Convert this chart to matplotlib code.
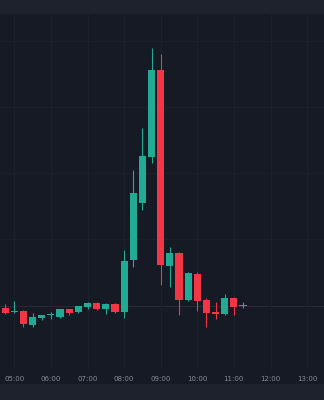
import numpy as np
import pandas as pd
import matplotlib
matplotlib.use("Agg")
import matplotlib.pyplot as plt
import matplotlib.dates as mdates
from matplotlib.patches import Rectangle

# 15 minute candles, 04:45 - 11:15
times = ["04:45", "05:00", "05:15", "05:30", "05:45", "06:00", "06:15", "06:30", "06:45",
         "07:00", "07:15", "07:30", "07:45", "08:00", "08:15", "08:30", "08:45", "09:00",
         "09:15", "09:30", "09:45", "10:00", "10:15", "10:30", "10:45", "11:00", "11:15"]
opens  = [97, 93, 94, 80, 87, 90, 88, 96, 93, 98, 102, 96, 101, 93, 145, 202, 248, 335,
          139, 152, 105, 131, 105, 93, 91, 107, 99]
highs  = [101, 104, 95, 92, 90.5, 93, 96.5, 96.5, 99.5, 103, 103, 102, 102, 155, 235, 277, 357, 351,
          158, 153, 133, 133, 107, 103, 111, 108, 103]
lows   = [91, 92, 78, 78, 85, 86, 87, 90, 92, 96, 95, 91, 92, 87, 138, 195, 242, 120,
          118, 90, 104, 94, 78, 86, 90, 90, 97]
closes = [92, 93.5, 81, 88, 90, 90, 96, 92, 99, 102, 96, 101, 93, 144, 212, 249, 335, 140,
          152, 105, 132, 104, 92, 91, 107, 98, 99.5]

up_col = '#22ab94'
dn_col = '#f23645'
bg = '#161a25'
band = '#1e222d'
grid_col = '#1c202b'

t = pd.to_datetime(["2024-01-01 " + s for s in times])
x = mdates.date2num(t)
w = (15 / (24 * 60)) * 0.78

fig = plt.figure(figsize=(3.24, 4.0), dpi=100, facecolor=bg)
fig.patches.append(Rectangle((0, 1 - 13 / 400), 1, 13 / 400, transform=fig.transFigure,
                             color=band, zorder=0))
fig.patches.append(Rectangle((0, 0), 1, 16 / 400, transform=fig.transFigure,
                             color=band, zorder=0))

ax = fig.add_axes([0, 30 / 400, 1, (387 - 30) / 400])
ax.set_facecolor(bg)
for s in ax.spines.values():
    s.set_visible(False)

o = np.array(opens); c = np.array(closes)
h = np.array(highs); l = np.array(lows)
cols = [up_col if cc >= oo else dn_col for oo, cc in zip(o, c)]

ax.vlines(x, l, h, colors=cols, linewidth=0.8, zorder=3)
bottoms = np.minimum(o, c)
heights = np.maximum(np.abs(c - o), 1.0)
ax.bar(x, heights, bottom=bottoms, width=w, color=cols, zorder=4, linewidth=0)

# last price line
ax.axhline(closes[-1], color='#272b37', linewidth=0.8, zorder=1)

start = mdates.date2num(pd.Timestamp("2024-01-01 05:00"))
hour = 1 / 24
ax.set_xlim(start - hour * 14.3 / 36.6, start + hour * (324 - 14.3) / 36.6)
ax.set_ylim(35, 392)

ax.xaxis.set_major_locator(mdates.HourLocator())
ax.xaxis.set_major_formatter(mdates.DateFormatter('%H:%M'))
ax.set_yticks([166, 232, 298, 364])
ax.tick_params(axis='x', length=0, pad=4, labelsize=5, labelcolor='#868a95')
ax.tick_params(axis='y', length=0, labelleft=False)
ax.grid(True, color=grid_col, linewidth=0.8, zorder=0)

fig.savefig('out.png', dpi=100, facecolor=bg)
